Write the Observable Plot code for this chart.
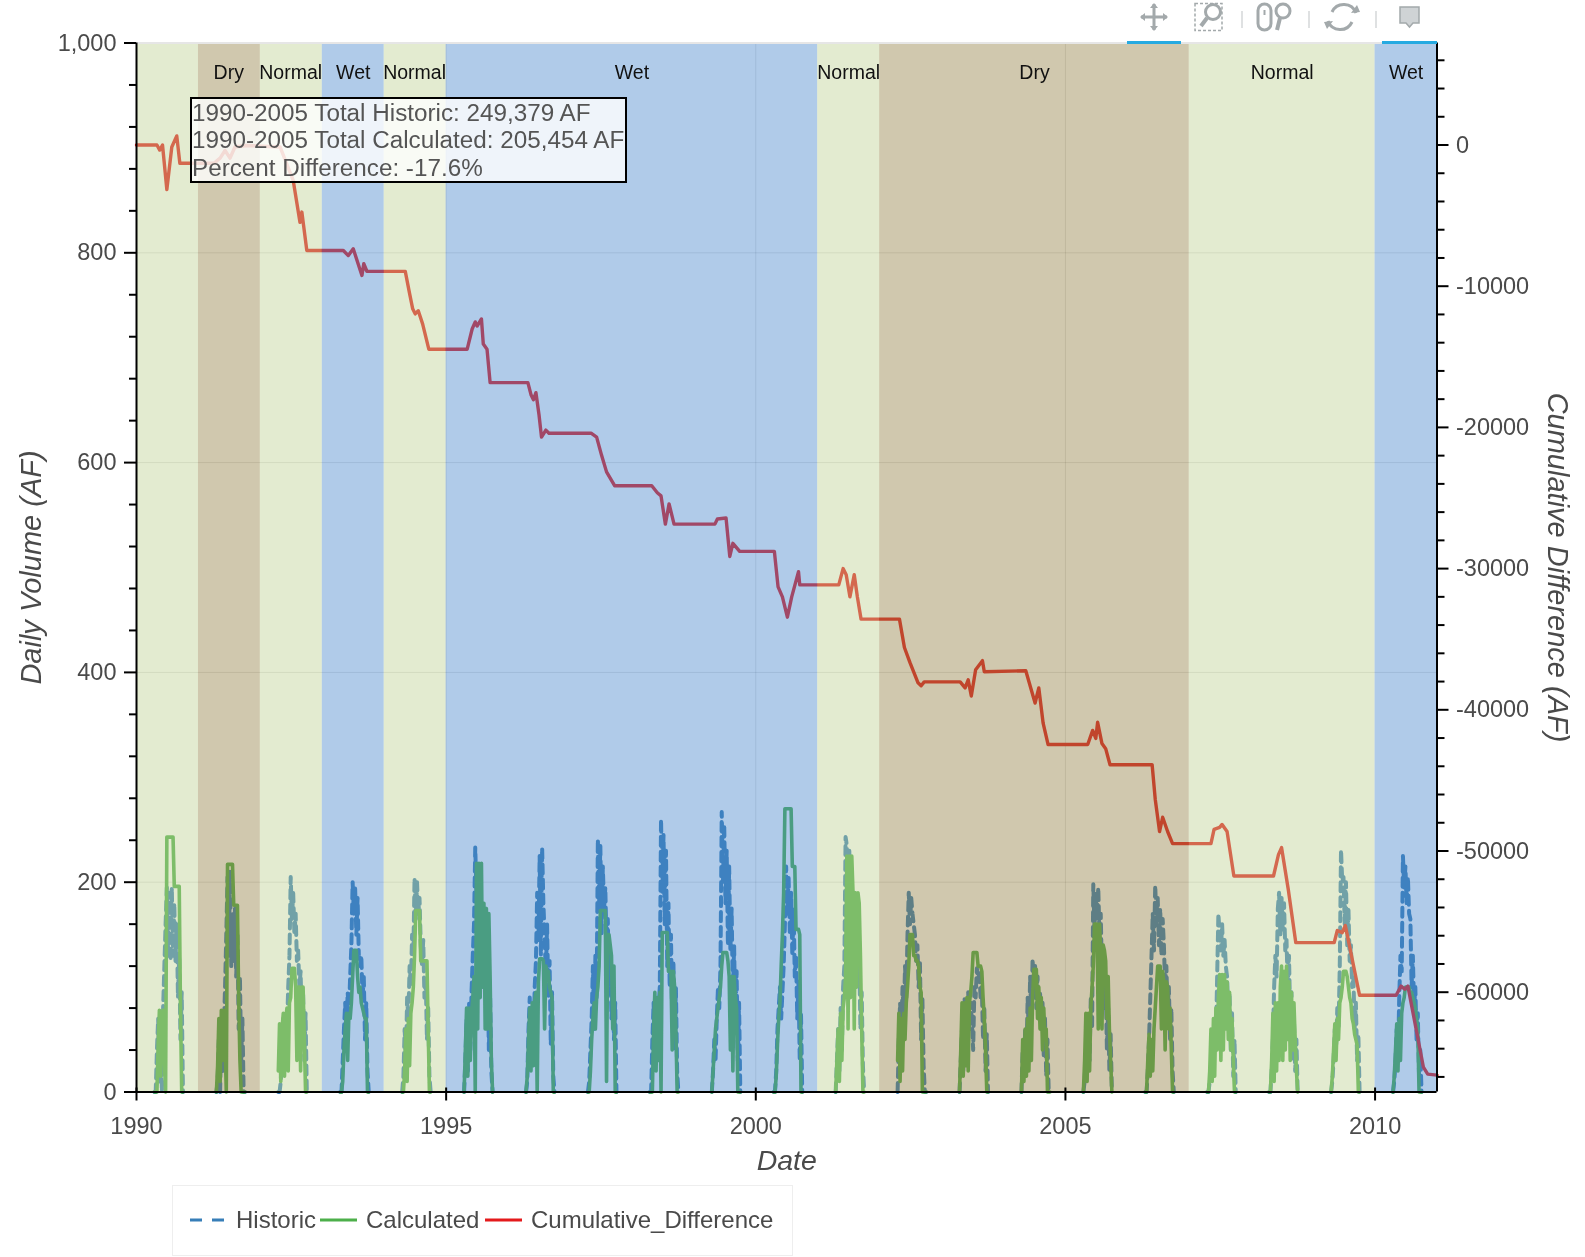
<!DOCTYPE html>
<html>
<head>
<meta charset="utf-8">
<script src="https://cdn.jsdelivr.net/npm/d3@7"></script>
<script src="https://cdn.jsdelivr.net/npm/@observablehq/plot@0.6"></script>
<style>
html,body{margin:0;padding:0;background:#fff}
#root{position:relative;width:1585px;height:1257px;overflow:hidden;font-family:"Liberation Sans",Arial,sans-serif;filter:blur(.45px)}
#root svg{display:block}
.tip{position:absolute;left:190px;top:97px;width:433px;height:82px;border:2px solid #000;background:rgba(255,255,255,.8);color:#555;font-size:24.25px;line-height:27.4px;padding-left:0;box-sizing:content-box;white-space:nowrap}
.legend{position:absolute;left:172px;top:1185px;width:621px;height:71px;border:1px solid #eee;box-sizing:border-box}
.legend span{position:absolute;top:20px;font-size:24px;line-height:28px;color:#4a4a4a;white-space:nowrap}
.overlay{position:absolute;left:0;top:0;pointer-events:none}
</style>
</head>
<body>
<div id="root"></div>
<script>
// Water-year zones
const zoneStart = [1990,1991,1992,1993,1994,1995,2001,2002,2007,2010];
const zoneEnd   = [1991,1992,1993,1994,1995,2001,2002,2007,2010,2011];
const zoneType  = ["Normal","Dry","Normal","Wet","Normal","Wet","Normal","Dry","Normal","Wet"];
const zoneLabel = ["","Dry","Normal","Wet","Normal","Wet","Normal","Dry","Normal","Wet"];
const labelYear = [1990.5,1991.49,1992.49,1993.5,1994.49,1998,2001.5,2004.5,2008.5,2010.5];

// Cumulative difference (AF)
const cumYears = [1990,1990.33,1990.375,1990.42,1990.49,1990.57,1990.65,1990.70,1991.25,1991.35,1991.43,1991.51,1991.59,1991.78,1992.32,1992.53,1992.64,1992.67,1992.75,1993.34,1993.42,1993.50,1993.64,1993.67,1993.72,1994.34,1994.41,1994.46,1994.50,1994.55,1994.62,1994.72,1995.34,1995.42,1995.47,1995.50,1995.57,1995.60,1995.66,1995.71,1996.32,1996.37,1996.41,1996.45,1996.50,1996.54,1996.61,1996.66,1997.34,1997.43,1997.51,1997.59,1997.72,1998.32,1998.41,1998.47,1998.54,1998.60,1998.68,1999.34,1999.38,1999.52,1999.58,1999.63,1999.74,2000.30,2000.36,2000.43,2000.51,2000.58,2000.69,2000.71,2001.34,2001.41,2001.46,2001.52,2001.59,2001.64,2001.70,2002.32,2002.40,2002.49,2002.62,2002.67,2002.72,2003.30,2003.38,2003.43,2003.48,2003.55,2003.66,2003.69,2004.36,2004.44,2004.51,2004.57,2004.64,2004.72,2005.36,2005.44,2005.49,2005.52,2005.59,2005.65,2005.72,2006.40,2006.45,2006.52,2006.57,2006.65,2006.73,2007.35,2007.40,2007.49,2007.53,2007.61,2007.72,2008.36,2008.44,2008.49,2008.60,2008.72,2009.34,2009.39,2009.47,2009.52,2009.75,2010.34,2010.42,2010.48,2010.53,2010.78,2010.85,2011];
const cumAF = [0,0,-358,0,-3150,-143,644,-1290,-1290,-930,-390,-930,-143,-36,-143,-2500,-5480,-4750,-7470,-7470,-7830,-7350,-9240,-8410,-8940,-8950,-10525,-11600,-11960,-11740,-12670,-14460,-14460,-13030,-12530,-12820,-12320,-14100,-14460,-16830,-16830,-17680,-18040,-17540,-19120,-20690,-20190,-20410,-20410,-20690,-21980,-23150,-24130,-24130,-24630,-24850,-26850,-25420,-26850,-26850,-26490,-26420,-29140,-28210,-28780,-28780,-31290,-32000,-33440,-32000,-30215,-31150,-31150,-30000,-30430,-32000,-30430,-32000,-33580,-33580,-35590,-36660,-38090,-38300,-38020,-38020,-38450,-37880,-39020,-37160,-36520,-37300,-37230,-38450,-39520,-38450,-40950,-42460,-42460,-41460,-42030,-40880,-42390,-42750,-43890,-43890,-46330,-48620,-47610,-48620,-49480,-49480,-48470,-48330,-48120,-48620,-51770,-51770,-50260,-49760,-52770,-56490,-56490,-55630,-55780,-55280,-60220,-60220,-59570,-59790,-59570,-65300,-65800,-65870];

// Season sampling (fraction of the year)
const seasonT = [.29,.31,.33,.35,.37,.39,.41,.43,.45,.47,.49,.51,.53,.55,.57,.59,.61,.63,.65,.67,.69,.71,.73,.75];
const seasonYears = [1990,1991,1992,1993,1994,1995,1996,1997,1998,1999,2000,2001,2002,2003,2004,2005,2006,2007,2008,2009,2010];

const calculated = [
[0,0,0,45,78,15,70,78,30,0,243,243,243,243,243,243,196,196,196,196,196,80,0,0],
[0,25,70,10,78,30,78,50,0,217,217,217,217,217,178,178,178,178,90,30,0,0,0,0],
[20,65,10,60,75,15,70,80,20,85,90,118,118,118,100,30,100,100,20,100,100,50,0,0],
[0,0,10,40,60,75,30,75,70,85,110,135,135,135,110,95,100,85,80,75,70,70,0,0],
[0,0,20,60,10,70,25,75,85,100,130,173,173,173,173,125,125,125,125,125,125,60,0,0],
[0,40,80,15,80,30,75,90,110,0,218,60,218,90,218,100,180,60,175,60,170,110,30,0],
[0,15,50,80,20,85,25,88,95,0,105,127,127,127,125,60,120,115,115,100,95,90,0,0],
[0,0,20,50,70,85,60,90,100,120,173,173,173,173,173,10,150,150,140,130,60,120,0,0],
[0,0,0,60,95,20,90,30,95,0,152,152,152,152,152,115,115,115,40,115,100,60,0,0],
[0,20,40,60,70,80,90,100,120,133,133,133,133,125,110,40,110,20,110,90,80,0,0,0],
[0,0,15,45,70,85,120,150,190,270,270,270,270,270,270,215,215,215,155,155,155,150,0,0],
[0,30,60,10,75,30,80,90,110,225,60,225,90,225,190,60,190,100,190,180,130,60,0,0],
[30,75,10,70,20,75,50,85,100,120,150,150,150,130,130,125,125,120,100,95,0,0,0,0],
[0,40,85,15,85,25,90,20,85,95,110,133,133,133,133,120,120,120,115,90,70,40,0,0],
[0,50,10,60,15,70,20,80,30,90,117,117,117,70,100,60,90,40,80,50,60,0,0,0],
[0,30,75,10,75,20,80,100,120,160,160,160,60,160,135,60,140,135,125,70,110,60,30,0],
[0,0,30,55,15,50,20,60,80,100,120,120,120,60,115,105,40,105,100,60,80,40,0,0],
[0,0,20,60,10,70,15,80,40,90,112,30,112,40,112,60,105,50,95,40,70,30,0,0],
[0,0,30,75,10,85,20,85,30,100,120,30,115,40,120,50,105,30,95,40,85,50,20,0],
[0,15,40,65,30,70,50,85,90,100,115,115,115,110,100,90,85,70,65,55,50,45,0,0],
[0,15,40,65,20,70,30,75,85,90,100,100,100,100,95,95,90,85,80,70,60,0,0,0]
];
const historic = [
[0,0,40,70,10,60,0,80,120,160,195,130,190,125,195,130,180,125,160,90,130,50,95,0],
[0,10,50,0,70,20,60,100,150,205,130,210,120,170,125,175,110,150,60,110,30,70,0,0],
[0,0,10,45,70,20,50,60,100,130,205,165,190,150,170,125,135,100,115,60,95,30,75,0],
[0,0,30,60,85,55,95,75,110,140,200,170,195,150,185,130,120,130,90,110,50,85,20,0],
[0,15,60,30,90,70,120,100,150,130,204,165,200,170,185,140,120,145,90,110,50,80,15,0],
[0,30,70,20,85,40,95,130,160,233,190,215,170,200,150,175,100,140,80,120,40,90,20,0],
[0,10,60,90,30,80,40,100,125,190,145,225,130,233,180,150,110,160,90,125,45,95,15,0],
[0,10,40,70,120,60,130,90,241,180,235,150,215,175,195,140,165,100,130,70,110,50,85,0],
[0,0,50,85,40,90,60,80,100,260,190,245,160,230,120,180,100,150,70,125,40,100,20,0],
[0,20,50,30,70,100,80,120,267,200,255,180,230,140,215,135,175,90,140,60,115,30,85,0],
[0,0,20,60,80,100,70,95,120,160,215,170,205,150,190,130,175,110,130,70,105,30,75,0],
[0,30,60,20,80,40,100,120,243,235,200,230,180,200,160,190,140,165,100,130,60,95,25,0],
[0,50,85,60,100,70,120,90,150,190,160,185,170,160,150,125,140,100,125,50,90,25,0,0],
[0,30,60,20,90,70,80,95,60,85,70,40,100,90,118,105,115,90,100,50,80,20,55,0],
[0,40,15,60,30,90,50,110,70,127,90,120,80,110,70,95,60,85,35,70,15,50,0,0],
[0,10,40,20,70,30,90,60,198,155,190,165,195,150,170,110,130,80,105,40,80,20,55,0],
[0,0,20,50,90,130,170,135,197,160,185,140,175,130,165,140,100,120,75,100,50,80,20,0],
[0,0,10,20,40,30,60,50,110,170,150,135,160,130,145,120,110,80,95,40,75,15,50,0],
[0,0,20,50,100,130,110,175,190,150,185,155,180,135,145,100,130,70,95,30,70,20,50,0],
[0,10,30,60,40,80,60,120,231,200,205,160,200,140,175,125,140,100,110,60,85,30,55,0],
[0,10,30,60,30,90,130,115,225,195,215,180,205,170,165,100,130,80,100,50,75,15,40,0]
];

// Axis ticks
const xTicks = [1990,1995,2000,2005,2010];
const yMajor = [0,200,400,600,800,1000];
const yMinor = [40,80,120,160,240,280,320,360,440,480,520,560,640,680,720,760,840,880,920,960];
const rightMajor = [0,-10000,-20000,-30000,-40000,-50000,-60000];
const rightMinor = [6000,4000,2000,-2000,-4000,-6000,-8000,-12000,-14000,-16000,-18000,-22000,-24000,-26000,-28000,-32000,-34000,-36000,-38000,-42000,-44000,-46000,-48000,-52000,-54000,-56000,-58000,-62000,-64000,-66000];

// Secondary (cumulative) axis range matched to the 0–1000 primary range
const cumMin = -67068, cumMax = 7224;
const cumToY = v => (v - cumMin) / (cumMax - cumMin) * 1000;
const yToCum = y => Math.round((y / 1000 * (cumMax - cumMin) + cumMin) / 1000) * 1000;

const zones = zoneStart.map((s,i)=>({x1:s,x2:zoneEnd[i],type:zoneType[i],label:zoneLabel[i],lx:labelYear[i]}));
const cumulative = cumYears.map((x,i)=>({x,y:cumToY(cumAF[i])}));
const seasonRows = table => seasonYears.flatMap((yr,k)=>seasonT.map((t,i)=>({x:yr+t,y:table[k][i],yr})));

const tickOnly = {tickFormat:()=>"",stroke:"#000",strokeWidth:2,label:null};
const labelled = {fontSize:23.5,fill:"#4a4a4a",stroke:"#000",strokeWidth:2,label:null};

const chart = Plot.plot({
  width:1585, height:1257,
  marginLeft:136, marginRight:148.5, marginTop:42.5, marginBottom:165.5,
  style:{fontFamily:'"Liberation Sans",Arial,sans-serif',background:"transparent",color:"#444"},
  x:{domain:[1990,2011],axis:null,label:null},
  y:{domain:[0,1000],axis:null,label:null},
  color:{domain:["Normal","Dry","Wet"],range:["#bed192","#918044","#4887cc"]},
  marks:[
    Plot.ruleY([200,400,600,800],{stroke:"#000",strokeOpacity:.12}),
    Plot.ruleX([1995,2000,2005],{stroke:"#000",strokeOpacity:.12}),
    Plot.line(seasonRows(historic),{x:"x",y:"y",z:"yr",stroke:"#377eb8",strokeWidth:4,strokeDasharray:"9 6",curve:"linear"}),
    Plot.line(seasonRows(calculated),{x:"x",y:"y",z:"yr",stroke:"#4daf4a",strokeWidth:3.6,curve:"linear"}),
    Plot.line(cumulative,{x:"x",y:"y",stroke:"#e41a1c",strokeWidth:3.4,curve:"linear"}),
    Plot.rect(zones,{x1:"x1",x2:"x2",y1:()=>0,y2:()=>1000,fill:"type",fillOpacity:.43}),
    Plot.text(zones.filter(d=>d.label),{x:"lx",y:()=>972,text:"label",fill:"#111",fontSize:19.5}),
    // frame lines
    Plot.ruleY([0],{stroke:"#000",strokeWidth:2}),
    Plot.ruleY([1000],{stroke:"#e6e6e6",strokeWidth:2}),
    Plot.ruleX([1990,2011],{stroke:"#000",strokeWidth:2}),
    // axes
    Plot.axisX(xTicks,{anchor:"bottom",tickSize:13,dy:-4,...tickOnly}),
    Plot.axisX(xTicks,{anchor:"bottom",tickSize:0,tickPadding:25,fontSize:23.5,fill:"#4a4a4a",tickFormat:d=>String(d),label:null}),
    Plot.axisY(yMajor,{anchor:"left",tickSize:12,tickPadding:8,tickFormat:d3.format(","),...labelled}),
    Plot.axisY(yMinor,{anchor:"left",tickSize:7,...tickOnly}),
    Plot.axisY(rightMajor.map(cumToY),{anchor:"right",tickSize:11,tickPadding:8,tickFormat:d=>String(yToCum(d)),...labelled}),
    Plot.axisY(rightMinor.map(cumToY),{anchor:"right",tickSize:7,...tickOnly}),
    Plot.text(["Date"],{frameAnchor:"bottom",textAnchor:"middle",dy:78,fontSize:28.5,fontStyle:"italic",fill:"#4a4a4a"}),
    Plot.text(["Daily Volume (AF)"],{frameAnchor:"left",textAnchor:"middle",dx:-105,rotate:-90,fontSize:29,fontStyle:"italic",fill:"#4a4a4a"}),
    Plot.text(["Cumulative Difference (AF)"],{frameAnchor:"right",textAnchor:"middle",dx:120,rotate:90,fontSize:29,fontStyle:"italic",fill:"#4a4a4a"})
  ]
});

const root = document.getElementById("root");
root.appendChild(chart);

const tip = document.createElement("div");
tip.className = "tip";
tip.innerHTML = "1990-2005 Total Historic: 249,379 AF<br>1990-2005 Total Calculated: 205,454 AF<br>Percent Difference: -17.6%";
root.appendChild(tip);

const legend = document.createElement("div");
legend.className = "legend";
legend.innerHTML = '<span style="left:63px">Historic</span><span style="left:193px">Calculated</span><span style="left:358px">Cumulative_Difference</span>';
root.appendChild(legend);

const overlay = document.createElementNS("http://www.w3.org/2000/svg","svg");
overlay.setAttribute("class","overlay");
overlay.setAttribute("width",1585);
overlay.setAttribute("height",1257);
overlay.innerHTML = `
<g stroke-width="3" fill="none">
  <line x1="190" x2="224" y1="1220" y2="1220" stroke="#377eb8" stroke-dasharray="12 10"/>
  <line x1="320" x2="357" y1="1220" y2="1220" stroke="#4daf4a"/>
  <line x1="485" x2="522" y1="1220" y2="1220" stroke="#e41a1c"/>
</g>
<rect x="1127" y="41" width="54" height="3" fill="#26aae1"/>
<rect x="1382" y="41" width="55" height="3" fill="#26aae1"/>
<g stroke="#a3a9ab" fill="none" stroke-width="3">
  <path d="M1154 4V30M1141 17H1167" />
  <path d="M1154 3l-4 5h8zM1154 31l-4-5h8zM1140 17l5-4v8zM1168 17l-5-4v8z" fill="#a3a9ab" stroke="none"/>
  <rect x="1195" y="3.5" width="27" height="27" stroke-width="1.5" stroke-dasharray="3 2"/>
  <circle cx="1213" cy="12" r="7.5" fill="#fff"/>
  <path d="M1207 18l-6 8" stroke-width="4"/>
  <rect x="1258" y="4" width="13" height="26" rx="6.5"/>
  <path d="M1264.500 10v5" stroke-width="2"/>
  <circle cx="1283" cy="11" r="7"/>
  <path d="M1280 18l-3 12" stroke-width="4"/>
  <path d="M1356 13a13 13 0 0 0-24-1M1328 21a13 13 0 0 0 24 1"/>
  <path d="M1360 12l-9 1 6-8zM1324 22l9-1-6 8z" fill="#a3a9ab" stroke="none"/>
  <path d="M1400 7h19v16h-6l-3.500 4-3.500-4h-6z" stroke-width="1.500" fill="#cfd3d5"/>
  <path d="M1242 11v17M1309 11v17M1376 11v17" stroke="#d5d8d9" stroke-width="1.500"/>
</g>`;
root.appendChild(overlay);
</script>
</body>
</html>
